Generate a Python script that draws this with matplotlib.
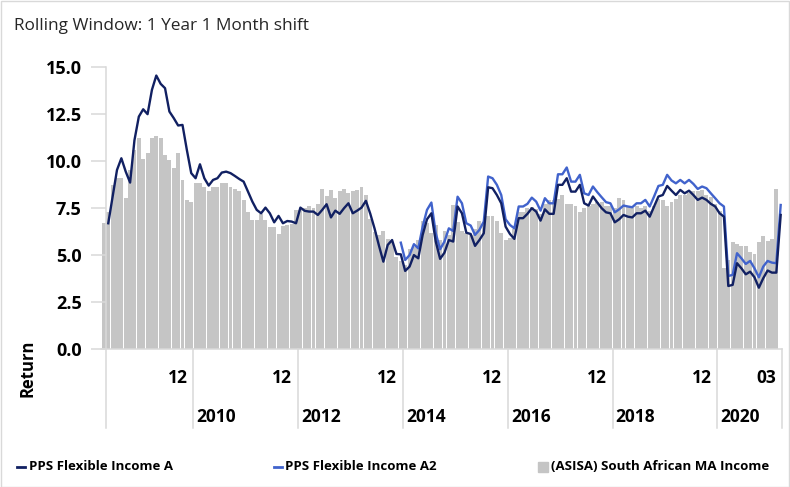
import matplotlib
matplotlib.use("Agg")
import matplotlib.pyplot as plt
import matplotlib.transforms as mtransforms
from matplotlib.lines import Line2D
from matplotlib.patches import Rectangle
import numpy as np
import pandas as pd

# ---------------- data ----------------
months = pd.date_range("2008-04-01", "2021-03-01", freq="MS")  # 156 monthly points

sector = [
    6.7, 7.3, 8.7, 9.1, 9.1, 8.05, 9.5, 10.6, 11.2, 10.1,
    10.4, 11.2, 11.3, 11.2, 10.3, 10.05, 9.6, 10.4, 9.0, 7.95,
    7.8, 8.85, 8.85, 8.6, 8.4, 8.6, 8.6, 8.85, 8.85, 8.6,
    8.5, 8.4, 7.95, 7.3, 6.85, 6.85, 7.2, 6.85, 6.5, 6.5,
    6.1, 6.55, 6.6, 6.65, 7.4, 7.4, 7.5, 7.6, 7.5, 7.7,
    8.5, 8.15, 8.45, 8.05, 8.4, 8.5, 8.3, 8.4, 8.45, 8.6,
    8.2, 6.9, 6.2, 6.07, 6.3, 5.85, 5.7, 4.9, 4.7, 4.5,
    5.3, 5.45, 5.8, 6.8, 6.7, 6.15, 6.6, 5.8, 6.3, 6.07,
    7.66, 6.75, 6.3, 6.15, 6.07, 6.4, 6.8, 6.7, 7.05, 7.05,
    6.8, 6.15, 5.8, 5.9, 6.4, 7.3, 7.3, 7.5, 7.55, 7.45,
    7.2, 7.7, 7.9, 7.93, 7.96, 8.2, 7.72, 7.72, 7.6, 7.3,
    7.5, 7.58, 7.72, 7.84, 7.84, 7.6, 7.58, 7.5, 8.05, 7.93,
    7.58, 7.5, 7.58, 7.5, 7.58, 7.36, 7.58, 8.0, 7.93, 7.63,
    7.84, 8.0, 8.2, 8.2, 8.3, 8.4, 8.4, 8.45, 8.2, 8.1,
    7.7, 7.35, 4.3, 4.75, 5.7, 5.6, 5.5, 5.5, 5.15, 5.05,
    5.7, 6.0, 5.75, 5.85, 8.5, None,
]

fund_a = [None,
    6.69, 8.1, 9.52, 10.14, 9.43, 8.85, 11.1, 12.35, 12.74, 12.48,
    13.77, 14.53, 14.09, 13.86, 12.62, 12.27, 11.88, 11.91, 10.58, 9.35,
    9.08, 9.82, 9.08, 8.69, 8.99, 9.08, 9.38, 9.43, 9.35, 9.2,
    9.04, 8.9, 8.37, 7.84, 7.4, 7.22, 7.52, 7.22, 6.74, 7.08,
    6.69, 6.81, 6.78, 6.69, 7.52, 7.35, 7.31, 7.31, 7.13, 7.4,
    7.7, 7.0, 7.36, 7.19, 7.49, 7.75, 7.22, 7.36, 7.52, 7.88,
    7.2, 6.4, 5.5, 4.65, 5.54, 5.8, 5.06, 5.04, 4.16, 4.39,
    5.0, 4.83, 6.07, 6.9, 7.22, 5.72, 4.8, 5.13, 5.8, 5.72,
    7.58, 7.22, 6.19, 6.12, 5.49, 5.8, 6.16, 8.6, 8.55, 8.19,
    7.75, 6.51, 6.12, 5.86, 6.96, 6.96, 7.19, 7.49, 7.31, 6.83,
    7.43, 7.19, 7.19, 8.73, 8.73, 9.08, 8.37, 8.37, 8.73, 7.75,
    7.63, 8.11, 7.79, 7.49, 7.27, 7.22, 6.74, 6.9, 7.13, 7.04,
    7.0, 7.22, 7.22, 7.36, 7.04, 7.58, 8.11, 8.19, 8.67, 8.42,
    8.19, 8.46, 8.28, 8.42, 8.19, 7.93, 8.05, 7.93, 7.72, 7.58,
    7.22, 7.04, 3.36, 3.42, 4.57, 4.3, 3.98, 4.12, 3.82, 3.27,
    3.77, 4.18, 4.07, 4.07, 7.13,
]

fund_a2 = [None] * 68 + [
    5.66, 4.74, 5.0, 5.58, 5.36, 6.51, 7.4, 7.79, 6.16, 5.31,
    5.72, 6.42, 6.28, 8.1, 7.75, 6.69, 6.57, 6.07, 6.34, 6.78,
    9.17, 9.08, 8.73, 8.19, 6.9, 6.6, 6.42, 7.58, 7.58, 7.72,
    8.05, 7.84, 7.36, 8.02, 7.75, 7.75, 9.29, 9.29, 9.65, 8.9,
    8.9, 9.26, 8.28, 8.19, 8.64, 8.34, 8.07, 7.81, 7.75, 7.27,
    7.43, 7.63, 7.58, 7.54, 7.75, 7.75, 7.93, 7.58, 8.11, 8.67,
    8.73, 9.26, 8.96, 8.81, 8.99, 8.81, 8.99, 8.78, 8.51, 8.64,
    8.55, 8.28, 8.02, 7.75, 7.58, 3.89, 3.95, 5.1, 4.83, 4.53,
    4.69, 4.3, 3.82, 4.39, 4.69, 4.6, 4.57, 7.66,
]

series_names = ["PPS Flexible Income A", "PPS Flexible Income A2",
                "(ASISA) South African MA Income"]
title_text = "Rolling Window: 1 Year 1 Month shift"
y_label = "Return"
y_ticks = [0.0, 2.5, 5.0, 7.5, 10.0, 12.5, 15.0]
month_tick_labels = ["12", "12", "12", "12", "12", "12", "03"]
year_tick_labels = ["2010", "2012", "2014", "2016", "2018", "2020"]

# ---------------- style ----------------
FONT = ["Open Sans", "DejaVu Sans"]
plt.rcParams["font.family"] = FONT
C_A = "#112062"
C_A2 = "#4163CC"
C_BAR = "#C5C5C5"
C_AX = "#D9D9D9"
W, H = 790, 487

fig = plt.figure(figsize=(W / 100, H / 100), dpi=100)
fig.patch.set_facecolor("white")

def fx(px):
    return px / W

def fy(py):
    return 1 - py / H

x_start, x_end = 0.4, 155.3
x_lo = -0.6
ax_left_px = 103.9 + 4.367 * x_lo
ax_right_px = 782.0
ax_top_px, ax_bot_px = 66.7, 349.3
ax = fig.add_axes([fx(ax_left_px), fy(ax_bot_px),
                   (ax_right_px - ax_left_px) / W, (ax_bot_px - ax_top_px) / H])

x = np.arange(len(months))
bar_vals = np.array([np.nan if v is None else v for v in sector], dtype=float)
a_vals = np.array([np.nan if v is None else v for v in fund_a], dtype=float)
a2_vals = np.array([np.nan if v is None else v for v in fund_a2], dtype=float)

ax.bar(x, np.nan_to_num(bar_vals), width=0.9, color=C_BAR, linewidth=0, zorder=1)
ax.plot(x, a_vals, color=C_A, lw=1.7, zorder=3, solid_joinstyle="round")
ax.plot(x, a2_vals, color=C_A2, lw=1.7, zorder=2, solid_joinstyle="round")

for s in ["top", "right"]:
    ax.spines[s].set_visible(False)
ax.spines["left"].set_position(("data", x_start))
ax.spines["left"].set_color(C_AX)
ax.spines["left"].set_linewidth(1.1)
ax.spines["bottom"].set_color(C_AX)
ax.spines["bottom"].set_linewidth(1.1)
ax.set_facecolor("none")

ax.set_xlim(x_lo, x_end)
ax.set_ylim(0, 15)
ax.tick_params(axis="y", length=10.8, width=1.1, color=C_AX, pad=6.5,
               labelcolor="black", labelsize=13)
ax.set_yticks(y_ticks)
ax.set_yticklabels([f"{t:.1f}" for t in y_ticks], fontweight="bold", fontsize=13)
ax.set_xticks([])

# multi-level category axis
trans = mtransforms.blended_transform_factory(ax.transData, fig.transFigure)
bounds = [i - 0.5 for i, d in enumerate(months) if d.month == 1 and d.year % 2 == 0]
seps = [x_start] + bounds + [x_end]
for s in seps:
    ax.add_artist(Line2D([s, s], [fy(349.3), fy(428)], transform=trans,
                         color=C_AX, lw=1.1, clip_on=False))
off = 6 / 4.367
month_pos = bounds + [x_end]
for lab, p in zip(month_tick_labels, month_pos):
    ax.text(p - off, fy(378), lab, transform=trans, ha="right", va="center",
            fontsize=12.5, fontweight="bold", color="black")
for lab, p in zip(year_tick_labels, bounds):
    ax.text(p + 3 / 4.367, fy(417), lab, transform=trans, ha="left", va="center",
            fontsize=12.5, fontweight="bold", color="black")

# titles
fig.text(fx(28), fy(368), y_label, rotation=90, ha="center", va="center",
         fontsize=12, fontweight="bold", color="black")
fig.text(fx(14), fy(26), title_text, ha="left", va="center", fontsize=12.4,
         color="#262626")

# legend
ly = fy(467)
LFS = 9.5
fig.add_artist(Line2D([fx(17), fx(25)], [ly, ly], color=C_A, lw=2,
                      transform=fig.transFigure))
fig.text(fx(29), ly, series_names[0], ha="left", va="center", fontsize=LFS,
         fontweight="bold", color="black")
fig.add_artist(Line2D([fx(274), fx(282)], [ly, ly], color=C_A2, lw=2,
                      transform=fig.transFigure))
fig.text(fx(285), ly, series_names[1], ha="left", va="center", fontsize=LFS,
         fontweight="bold", color="black")
fig.add_artist(Rectangle((fx(538), fy(472)), 10 / W, 10 / H, color=C_BAR,
                         transform=fig.transFigure))
fig.text(fx(551), ly, series_names[2], ha="left", va="center", fontsize=LFS,
         fontweight="bold", color="black")

# outer border
fig.add_artist(Rectangle((0.5 / W, 0.5 / H), 1 - 1.5 / W, 1 - 1.5 / H, fill=False,
                         edgecolor=C_AX, lw=1, transform=fig.transFigure))

fig.savefig("out.png", dpi=100)
